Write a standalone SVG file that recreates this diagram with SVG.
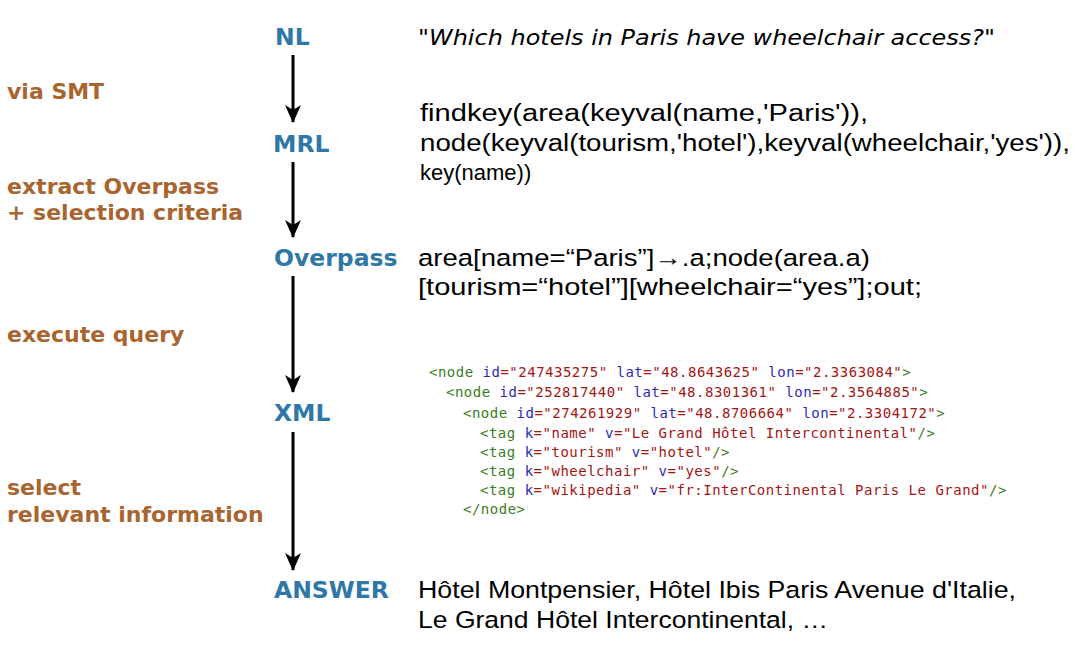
<svg xmlns="http://www.w3.org/2000/svg" width="1078" height="646" viewBox="0 0 1078 646">
<defs>
<style>
.stage{font-family:"DejaVu Sans","Liberation Sans",sans-serif;font-weight:bold;font-size:23.5px;fill:#2E78A8}
.step{font-family:"DejaVu Sans","Liberation Sans",sans-serif;font-weight:bold;font-size:22px;fill:#A8652F}
.q{font-family:"DejaVu Sans","Liberation Sans",sans-serif;font-style:italic;font-size:22px;fill:#000}
.t{font-family:"Liberation Sans","DejaVu Sans",sans-serif;font-size:23px;fill:#000}
.t2{font-family:"Liberation Sans","DejaVu Sans",sans-serif;font-size:24.5px;fill:#000}
.x{font-family:"DejaVu Sans Mono","Liberation Mono",monospace;font-size:14px;letter-spacing:0.5px;white-space:pre}
.g{fill:#3A7D1E}.b{fill:#2B2BB8}.r{fill:#A31515}
.arr{stroke:#000;stroke-width:3;fill:none}
</style>
<marker id="ah" viewBox="0 0 18 16" refX="17" refY="8" markerWidth="18" markerHeight="16" markerUnits="userSpaceOnUse" orient="auto">
<path d="M0,0 L5,8 L0,16 L18,8 Z" fill="#000"/>
</marker>
</defs>
<g id="connectors">
<line class="arr" x1="293" y1="55" x2="293" y2="122" marker-end="url(#ah)"/>
<line class="arr" x1="293" y1="162" x2="293" y2="237" marker-end="url(#ah)"/>
<line class="arr" x1="293" y1="276" x2="293" y2="392" marker-end="url(#ah)"/>
<line class="arr" x1="293" y1="432" x2="293" y2="570" marker-end="url(#ah)"/>
</g>
<g id="steps">
<text class="step" x="7" y="99">via SMT</text>
<text class="step" x="7" y="194">extract Overpass</text>
<text class="step" x="7" y="220">+ selection criteria</text>
<text class="step" x="7" y="342">execute query</text>
<text class="step" x="7" y="495">select</text>
<text class="step" x="7" y="522">relevant information</text>
</g>
<g id="node-nl">
<text class="stage" x="275" y="45">NL</text>
<text class="q" x="418" y="45" textLength="577" lengthAdjust="spacingAndGlyphs">"Which hotels in Paris have wheelchair access?"</text>
</g>
<g id="node-mrl">
<text class="stage" x="273" y="152">MRL</text>
<text class="t" x="420" y="121" textLength="448" lengthAdjust="spacingAndGlyphs">findkey(area(keyval(name,'Paris')),</text>
<text class="t" x="420" y="151" textLength="650" lengthAdjust="spacingAndGlyphs">node(keyval(tourism,'hotel'),keyval(wheelchair,'yes')),</text>
<text class="t" x="420" y="180" style="font-size:22px">key(name))</text>
</g>
<g id="node-overpass">
<text class="stage" x="274" y="266">Overpass</text>
<text class="t2" x="418" y="266" textLength="452" lengthAdjust="spacingAndGlyphs">area[name=“Paris”]→.a;node(area.a)</text>
<text class="t2" x="418" y="295" textLength="504" lengthAdjust="spacingAndGlyphs">[tourism=“hotel”][wheelchair=“yes”];out;</text>
</g>
<g id="node-xml">
<text class="stage" x="274" y="421">XML</text>
<text class="x" x="429" y="377"><tspan class="g">&lt;node </tspan><tspan class="b">id</tspan><tspan class="r">="247435275" </tspan><tspan class="b">lat</tspan><tspan class="r">="48.8643625" </tspan><tspan class="b">lon</tspan><tspan class="r">="2.3363084"</tspan><tspan class="g">&gt;</tspan></text>
<text class="x" x="446" y="397"><tspan class="g">&lt;node </tspan><tspan class="b">id</tspan><tspan class="r">="252817440" </tspan><tspan class="b">lat</tspan><tspan class="r">="48.8301361" </tspan><tspan class="b">lon</tspan><tspan class="r">="2.3564885"</tspan><tspan class="g">&gt;</tspan></text>
<text class="x" x="463" y="418"><tspan class="g">&lt;node </tspan><tspan class="b">id</tspan><tspan class="r">="274261929" </tspan><tspan class="b">lat</tspan><tspan class="r">="48.8706664" </tspan><tspan class="b">lon</tspan><tspan class="r">="2.3304172"</tspan><tspan class="g">&gt;</tspan></text>
<text class="x" x="480" y="438"><tspan class="g">&lt;tag </tspan><tspan class="b">k</tspan><tspan class="r">="name" </tspan><tspan class="b">v</tspan><tspan class="r">="Le Grand Hôtel Intercontinental"</tspan><tspan class="g">/&gt;</tspan></text>
<text class="x" x="480" y="457"><tspan class="g">&lt;tag </tspan><tspan class="b">k</tspan><tspan class="r">="tourism" </tspan><tspan class="b">v</tspan><tspan class="r">="hotel"</tspan><tspan class="g">/&gt;</tspan></text>
<text class="x" x="480" y="476"><tspan class="g">&lt;tag </tspan><tspan class="b">k</tspan><tspan class="r">="wheelchair" </tspan><tspan class="b">v</tspan><tspan class="r">="yes"</tspan><tspan class="g">/&gt;</tspan></text>
<text class="x" x="480" y="495"><tspan class="g">&lt;tag </tspan><tspan class="b">k</tspan><tspan class="r">="wikipedia" </tspan><tspan class="b">v</tspan><tspan class="r">="fr:InterContinental Paris Le Grand"</tspan><tspan class="g">/&gt;</tspan></text>
<text class="x g" x="463" y="514">&lt;/node&gt;</text>
</g>
<g id="node-answer">
<text class="stage" x="274" y="598">ANSWER</text>
<text class="t2" x="418" y="598" textLength="598" lengthAdjust="spacingAndGlyphs">Hôtel Montpensier, Hôtel Ibis Paris Avenue d'Italie,</text>
<text class="t2" x="418" y="628" textLength="410" lengthAdjust="spacingAndGlyphs">Le Grand Hôtel Intercontinental, …</text>
</g>
</svg>
